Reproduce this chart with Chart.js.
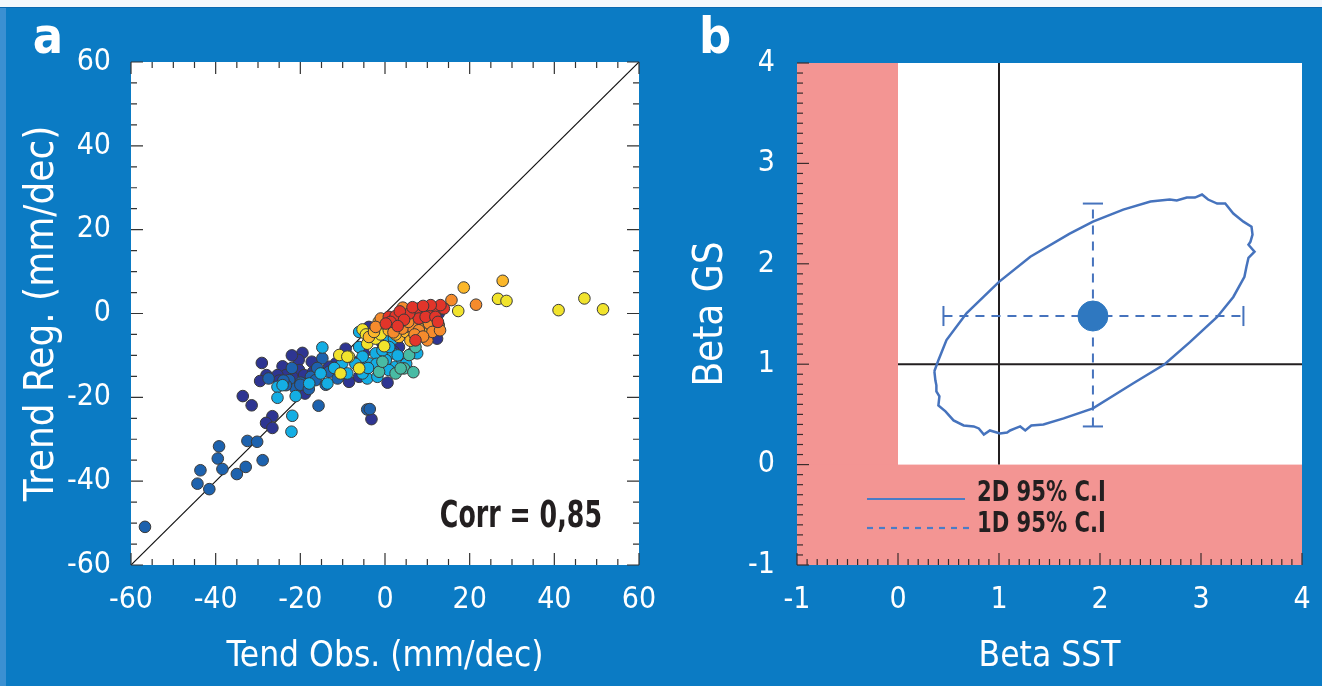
<!DOCTYPE html>
<html>
<head>
<meta charset="utf-8">
<script src="https://cdn.jsdelivr.net/npm/chart.js@4.4.1/dist/chart.umd.min.js"></script>
<style>
  html, body { margin: 0; padding: 0; }
  body { width: 1322px; height: 686px; background: #0b7bc4; position: relative; overflow: hidden; }
  #topStrip { position: absolute; left: 0; top: 0; width: 1322px; height: 7px; background: #f4f8fc; border-bottom: 1px solid #0a69b0; }
  #leftStrip { position: absolute; left: 0; top: 8px; width: 6px; height: 678px; background: #3b90d2; }
  canvas { position: absolute; top: 0; }
  #chartA { left: 0; }
  #chartB { left: 661px; }
</style>
</head>
<body>
<div id="topStrip"></div>
<div id="leftStrip"></div>
<canvas id="chartA" width="661" height="686"></canvas>
<canvas id="chartB" width="661" height="686"></canvas>
<script>
// fonts
const FONT = "'Liberation Sans Narrow', 'Arial Narrow', 'DejaVu Sans Condensed', sans-serif";
const BLACK = '#231f20';

// ---- panel a : scatter of trends, grouped by colour (x = obs, y = reg) ----
const navyPts = [
  [-29.1,-11.8],[-28.0,-14.7],[-29.5,-16.1],[-24.2,-12.6],[-19.5,-9.4],[-20.4,-11.1],[-20.3,-13.5],
  [-17.3,-11.5],[-19.1,-14.7],[-21.9,-15.1],[-23.4,-14.7],[-25.4,-14.7],[-33.6,-19.7],[-31.5,-21.9],
  [-26.6,-24.5],[-28.1,-26.1],[-26.6,-27.3],[-18.9,-19.1],[-9.3,-8.4],[-8.5,-16.3],[-6.1,-15.1],
  [-5.0,-9.5],[-3.8,-3.2],[0.6,-16.5],[-3.2,-25.2],[3.3,-8.0],[12.3,-6.0],[12.7,0.0],[-0.6,-7.2],
  [-11.6,-11.9],[-13.2,-12.7],[-6.3,-11.5],[6.4,-9.5],[-22.0,-10.0],[-25.0,-16.0],[-17.0,-14.0],
  [-1.0,-10.0],[2.0,-9.0]
];
const bluePts = [
  [-56.7,-50.9],[-44.3,-40.6],[-41.5,-41.9],[-43.6,-37.4],[-39.5,-34.6],[-39.2,-31.7],[-38.4,-37.1],
  [-35.0,-38.3],[-32.9,-36.6],[-28.9,-35.0],[-32.5,-30.4],[-30.2,-30.6],[-15.7,-22.0],[-4.2,-22.9],
  [-3.6,-22.8],[-27.5,-15.5],[-22.6,-15.9],[-19.9,-16.5],[-17.5,-15.1],[-14.8,-10.7],[-13.2,-13.9],
  [-11.2,-15.5],[-21.1,-17.9],[-16.4,-15.9],[-23.4,-17.1],[-24.0,-16.0],[-20.0,-17.0],[-16.0,-13.0],
  [-14.0,-17.0],[-22.0,-13.0],[-18.0,-18.0]
];
const cyanPts = [
  [-25.4,-17.5],[-25.4,-20.1],[-21.1,-19.7],[-21.9,-24.4],[-22.1,-28.2],[-14.8,-8.1],[-15.2,-14.3],
  [-13.6,-16.7],[-10.1,-11.9],[-6.1,-8.0],[-4.2,-15.5],[-1.8,-15.1],[-3.8,-11.9],[1.7,-9.5],
  [2.5,-12.7],[7.6,-9.5],[-5.3,-10.3],[-2.2,-9.5],[0.2,-11.1],[0.9,-13.5],[-0.6,-8.8],[4.1,-11.1],
  [-5.3,-14.3],[-8.9,-14.3],[-6.1,-4.4],[-1.4,-5.6],[0.2,-6.4],[2.1,-6.0],[-17.9,-16.7],[-24.2,-17.1],
  [-2.0,-12.0],[1.0,-8.0],[3.0,-10.0],[-4.0,-13.0],[5.0,-12.0],[-7.0,-12.0],[-12.0,-13.0]
];
const tealPts = [
  [-1.4,-13.9],[-0.6,-11.5],[4.5,-13.1],[6.7,-14.0],[5.7,-9.9],[7.2,-8.0],[2.5,-14.3],[3.7,-13.1]
];
const yellowPts = [
  [41.0,0.8],[47.1,3.6],[51.5,1.0],[26.7,3.5],[28.7,3.0],[17.3,0.6],[-8.5,-10.3],[-10.8,-9.9],
  [-10.5,-14.3],[-5.3,-3.8],[-0.6,-3.6],[1.7,-3.2],[6.1,0.4],[-4.2,-7.2],[-2.2,-6.0],[-6.1,-13.1],
  [10.8,-0.8],[-8.9,-10.3],[-0.2,-7.8],[8.8,-1.2],[3.0,-4.5],[9.5,-2.0],[-1.0,-5.0],[12.0,-1.5],
  [-4.5,-5.0]
];
const goldPts = [
  [27.8,7.8],[18.6,6.2],[3.3,-5.6],[4.9,-4.4],[6.4,-2.4],[8.8,-2.4],[7.2,-0.8],[10.4,-4.0],
  [-3.8,-5.6],[-2.6,-4.4],[0.9,-4.0],[4.9,-3.2],[6.8,-5.6],[3.7,-1.6],[1.0,-1.5],[5.0,-1.0],
  [8.0,-3.5],[11.0,-3.0],[2.5,-5.0],[-1.5,-2.0],[6.0,-6.5]
];
const orangePts = [
  [21.5,2.1],[15.7,3.2],[4.2,1.4],[-1.0,-1.2],[6.4,-3.2],[4.1,-3.6],[8.0,-4.0],[10.4,-2.4],
  [12.7,-2.8],[10.0,-6.4],[-2.2,-3.2],[13.5,1.2],[2.5,-2.4],[4.5,-0.8],[11.2,-4.4],[7.0,-5.0],
  [9.0,-5.5],[2.0,-4.5],[11.5,0.0],[5.5,-2.0],[13.0,-4.0]
];
const redPts = [
  [0.9,-0.8],[2.5,-0.6],[8.0,1.2],[10.0,0.6],[11.2,1.0],[12.3,1.2],[13.9,1.2],[8.0,-1.2],
  [7.2,-6.4],[5.7,0.0],[9.6,-0.8],[11.9,-0.8],[1.3,-2.0],[0.2,-2.4],[13.1,2.0],[10.8,2.0],
  [3.5,0.5],[6.5,1.5],[9.0,1.8],[4.5,-1.5],[12.5,-2.0],[3.0,-3.0]
];
const oneToOne = [[-60,-60],[60,60]];
const trendTicks = [-60, -40, -20, 0, 20, 40, 60];
const corrLabel = 'Corr = 0,85';

// ---- panel b : beta SST / beta GS confidence region ----
const ellipsePts = [
  [0.36,0.93],[0.40,1.04],[0.48,1.24],[0.68,1.51],[1.00,1.82],[1.31,2.07],[1.70,2.30],[1.93,2.42],
  [2.23,2.54],[2.50,2.62],[2.69,2.64],[2.76,2.63],[2.86,2.66],[2.94,2.66],[3.01,2.69],[3.07,2.64],
  [3.16,2.60],[3.24,2.60],[3.32,2.50],[3.42,2.42],[3.50,2.37],[3.51,2.29],[3.49,2.22],[3.47,2.19],
  [3.53,2.12],[3.47,2.06],[3.45,1.97],[3.43,1.87],[3.32,1.67],[3.16,1.47],[2.89,1.22],[2.64,1.00],
  [2.33,0.81],[1.93,0.56],[1.64,0.46],[1.44,0.40],[1.32,0.39],[1.26,0.34],[1.21,0.38],[1.16,0.36],
  [1.11,0.34],[1.08,0.32],[1.01,0.31],[0.91,0.34],[0.85,0.30],[0.80,0.36],[0.75,0.38],[0.65,0.39],
  [0.55,0.44],[0.47,0.53],[0.40,0.59],[0.41,0.68],[0.38,0.73],[0.38,0.79],[0.37,0.84],[0.36,0.93]
];
const bestEstimate = [1.93, 1.48];
const sstCI = [0.45, 3.42];
const gsCI = [0.38, 2.60];
const capHalf = 0.1;
const refX = [[1, 0], [1, 4]];
const refY = [[0, 1], [4, 1]];
const betaTicks = [-1, 0, 1, 2, 3, 4];
const legendLabels = ['2D 95% C.I', '1D 95% C.I'];

const pts = arr => arr.map(p => ({ x: p[0], y: p[1] }));

function dotSet(data, color) {
  return {
    data: pts(data), backgroundColor: color, borderColor: '#3a3a3a', borderWidth: 1,
    pointRadius: 5.8, pointHoverRadius: 5.8
  };
}

function lineSet(data, color, width, dash) {
  return {
    data: pts(data), showLine: true, borderColor: color, borderWidth: width, borderDash: dash || [],
    pointRadius: 0, pointHoverRadius: 0, fill: false, tension: 0
  };
}

function whiteTicks(values) {
  return {
    color: '#fff', font: { family: FONT, size: 30 }, autoSkip: false, maxRotation: 0,
    callback: v => values.includes(v) ? String(v) : null
  };
}

// text squeezed horizontally, the fallback font is wider than the original's
function narrowText(ctx, text, x, y, font, align, squeeze) {
  ctx.save();
  ctx.font = font;
  ctx.textAlign = align;
  ctx.translate(x, y);
  ctx.scale(squeeze, 1);
  ctx.fillText(text, 0, 0);
  ctx.restore();
}

// inward tick marks along the chart area edges
function drawInTicks(ctx, scale, from, to, step, majorEvery, sides) {
  const a = scale.chart.chartArea;
  const n = Math.round((to - from) / step);
  for (let i = 0; i <= n; i++) {
    const v = from + i * step;
    const major = Math.abs(v / majorEvery - Math.round(v / majorEvery)) < 1e-6;
    const len = major ? 12 : 6;
    const p = scale.getPixelForValue(v);
    ctx.beginPath();
    sides.forEach(s => {
      if (s === 'bottom') { ctx.moveTo(p, a.bottom); ctx.lineTo(p, a.bottom - len); }
      if (s === 'top') { ctx.moveTo(p, a.top); ctx.lineTo(p, a.top + len); }
      if (s === 'left') { ctx.moveTo(a.left, p); ctx.lineTo(a.left + len, p); }
      if (s === 'right') { ctx.moveTo(a.right, p); ctx.lineTo(a.right - len, p); }
    });
    ctx.stroke();
  }
}

function panelLetter(ctx, letter, x) {
  ctx.save();
  ctx.fillStyle = '#fff';
  ctx.font = "bold 50px " + FONT;
  ctx.textAlign = 'center';
  ctx.textBaseline = 'alphabetic';
  ctx.fillText(letter, x, 53);
  ctx.restore();
}

const panelAPlugin = {
  id: 'panelA',
  beforeDatasetsDraw(chart) {
    const { ctx, chartArea: a } = chart;
    ctx.save();
    ctx.fillStyle = '#fff';
    ctx.fillRect(a.left, a.top, a.width, a.height);
    ctx.restore();
  },
  afterDatasetsDraw(chart) {
    const { ctx, scales: { x, y }, chartArea: a } = chart;
    ctx.save();
    ctx.strokeStyle = '#333';
    ctx.lineWidth = 1.2;
    drawInTicks(ctx, x, -60, 60, 5, 20, ['bottom', 'top']);
    drawInTicks(ctx, y, -60, 60, 5, 20, ['left', 'right']);
    ctx.fillStyle = BLACK;
    narrowText(ctx, corrLabel, a.right - 37, 527, "bold 37px " + FONT, 'right', 0.76);
    ctx.restore();
    panelLetter(ctx, 'a', 48);
  }
};

const panelBPlugin = {
  id: 'panelB',
  beforeDatasetsDraw(chart) {
    const { ctx, chartArea: a, scales: { x, y } } = chart;
    const x0 = x.getPixelForValue(0);
    const y0 = y.getPixelForValue(0);
    ctx.save();
    ctx.fillStyle = '#fff';
    ctx.fillRect(a.left, a.top, a.width, a.height);
    ctx.fillStyle = '#f39593';
    ctx.fillRect(a.left, a.top, x0 - a.left, a.height);
    ctx.fillRect(a.left, y0, a.width, a.bottom - y0);
    ctx.restore();
  },
  afterDatasetsDraw(chart) {
    const { ctx, scales: { x, y } } = chart;
    ctx.save();
    ctx.strokeStyle = '#3a2c2c';
    ctx.lineWidth = 1.2;
    drawInTicks(ctx, x, -1, 4, 0.1, 1, ['bottom']);
    drawInTicks(ctx, y, -1, 4, 0.1, 1, ['left']);
    // legend
    ctx.strokeStyle = '#4a7cc6';
    ctx.lineWidth = 2.2;
    ctx.beginPath(); ctx.moveTo(206, 499); ctx.lineTo(304, 499); ctx.stroke();
    ctx.setLineDash([6, 6]);
    ctx.beginPath(); ctx.moveTo(206, 528); ctx.lineTo(314, 528); ctx.stroke();
    ctx.setLineDash([]);
    ctx.fillStyle = BLACK;
    narrowText(ctx, legendLabels[0], 316, 501, "bold 29px " + FONT, 'left', 0.81);
    narrowText(ctx, legendLabels[1], 316, 532, "bold 29px " + FONT, 'left', 0.81);
    ctx.restore();
    panelLetter(ctx, 'b', 54);
  }
};

function axis(min, max, step, values, title, isX, size, tickPad, titlePad, titleSize) {
  return {
    type: 'linear', min: min, max: max,
    ticks: Object.assign(whiteTicks(values), { stepSize: step, padding: tickPad }),
    grid: { display: false, drawTicks: false },
    border: { display: false },
    title: {
      display: true, text: title, color: '#fff', font: { family: FONT, size: titleSize },
      padding: isX ? { top: 0, bottom: titlePad } : { top: titlePad, bottom: 0 }
    },
    afterFit(s) {
      if (isX) s.height = size; else s.width = size;
      // keep the chart area where the layout padding puts it
      s.paddingLeft = 0; s.paddingRight = 0; s.paddingTop = 0; s.paddingBottom = 0;
    }
  };
}

const common = {
  responsive: false, animation: false, devicePixelRatio: 1,
  plugins: { legend: { display: false }, tooltip: { enabled: false } },
  events: []
};

new Chart(document.getElementById('chartA'), {
  type: 'scatter',
  data: {
    datasets: [
      dotSet(redPts, '#e2352a'),
      dotSet(orangePts, '#f58b2c'),
      dotSet(goldPts, '#fbb72a'),
      dotSet(yellowPts, '#f1e32c'),
      dotSet(tealPts, '#48bba4'),
      dotSet(cyanPts, '#14aee4'),
      dotSet(bluePts, '#1d62ae'),
      dotSet(navyPts, '#2e3592'),
      lineSet(oneToOne, '#111', 1.2)
    ]
  },
  options: Object.assign({}, common, {
    layout: { padding: { top: 62, right: 22, left: 0, bottom: 0 } },
    scales: {
      x: axis(-60, 60, 20, trendTicks, 'Tend Obs. (mm/dec)', true, 121, 17, 8, 35),
      y: axis(-60, 60, 20, trendTicks, 'Trend Reg. (mm/dec)', false, 131, 20, 19, 40)
    }
  }),
  plugins: [panelAPlugin]
});

new Chart(document.getElementById('chartB'), {
  type: 'scatter',
  data: {
    datasets: [
      {
        data: [{ x: bestEstimate[0], y: bestEstimate[1] }], backgroundColor: '#2f78c0',
        borderColor: '#2f78c0', pointRadius: 15, pointHoverRadius: 15
      },
      lineSet(ellipsePts, '#4673bd', 2.5),
      lineSet([[sstCI[0], bestEstimate[1]], [sstCI[1], bestEstimate[1]]], '#4673bd', 2, [9, 7]),
      lineSet([[bestEstimate[0], gsCI[0]], [bestEstimate[0], gsCI[1]]], '#4673bd', 2, [9, 7]),
      lineSet([[sstCI[0], bestEstimate[1] - capHalf], [sstCI[0], bestEstimate[1] + capHalf]], '#4673bd', 2),
      lineSet([[sstCI[1], bestEstimate[1] - capHalf], [sstCI[1], bestEstimate[1] + capHalf]], '#4673bd', 2),
      lineSet([[bestEstimate[0] - capHalf, gsCI[0]], [bestEstimate[0] + capHalf, gsCI[0]]], '#4673bd', 2),
      lineSet([[bestEstimate[0] - capHalf, gsCI[1]], [bestEstimate[0] + capHalf, gsCI[1]]], '#4673bd', 2),
      lineSet(refX, BLACK, 2),
      lineSet(refY, BLACK, 2)
    ]
  },
  options: Object.assign({}, common, {
    layout: { padding: { top: 63, right: 20, left: 0, bottom: 0 } },
    scales: {
      x: axis(-1, 4, 1, betaTicks, 'Beta SST', true, 121, 17, 8, 35),
      y: axis(-1, 4, 1, betaTicks, 'Beta GS', false, 136, 22, 27, 40)
    }
  }),
  plugins: [panelBPlugin]
});
</script>
</body>
</html>
